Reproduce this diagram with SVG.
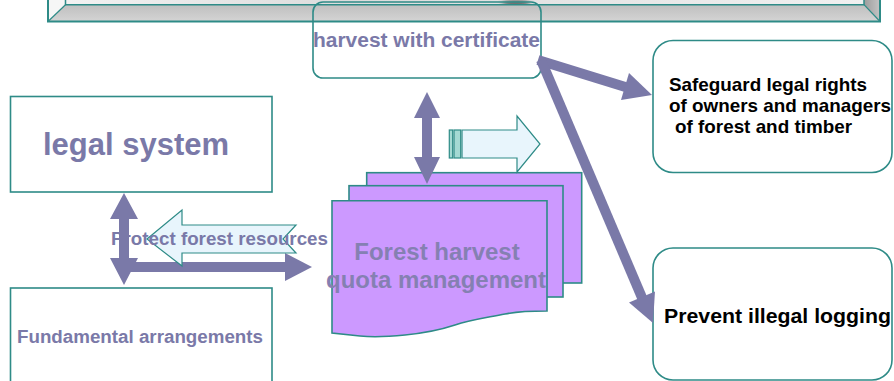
<svg xmlns="http://www.w3.org/2000/svg" width="894" height="381" viewBox="0 0 894 381">
  <style>
    .box { fill: #ffffff; stroke: #2e8b87; stroke-width: 1.6; }
    .open { fill: none; stroke: #2e8b87; stroke-width: 1.6; }
    .lbl { font-family: "Liberation Sans", Arial, sans-serif; font-weight: bold; fill: #7a79a8; }
    .dark { font-family: "Liberation Sans", Arial, sans-serif; font-weight: bold; fill: #000000; }
    .gray { fill: #7a79a8; stroke: none; }
    .pale { fill: #e8f5fc; stroke: #2e8b87; stroke-width: 1.2; }
    .stripe { fill: #a4d9d3; stroke: #2e8b87; stroke-width: 1.2; }
    .sheet { fill: #cc99ff; stroke: #2e8b87; stroke-width: 1.6; }
  </style>
  <defs>
    <linearGradient id="faceFront" x1="0" y1="0" x2="1" y2="0">
      <stop offset="0" stop-color="#f2f2f2"/>
      <stop offset="0.35" stop-color="#dcdcdc"/>
      <stop offset="0.6" stop-color="#e4e4e4"/>
      <stop offset="1" stop-color="#f0f0f0"/>
    </linearGradient>
    <linearGradient id="faceBottom" x1="0" y1="0" x2="0" y2="1">
      <stop offset="0" stop-color="#bfbfbf"/>
      <stop offset="1" stop-color="#d4d4d4"/>
    </linearGradient>
    <linearGradient id="faceRight" x1="0" y1="0" x2="1" y2="0">
      <stop offset="0" stop-color="#9c9c9c"/>
      <stop offset="1" stop-color="#c4c4c4"/>
    </linearGradient>
    <filter id="soft" x="-50%" y="-200%" width="200%" height="500%">
      <feGaussianBlur stdDeviation="2.5"/>
    </filter>
  </defs>

  <!-- bevelled banner across the top -->
  <g id="banner">
    <rect x="65.5" y="-10" width="798.5" height="14.7" fill="url(#faceFront)"/>
    <ellipse cx="516" cy="4" rx="14" ry="4" fill="#4a4a4a" opacity="0.85" filter="url(#soft)"/>
    <polygon points="65.5,4.7 864,4.7 880,21.5 48,21.5" fill="url(#faceBottom)"/>
    <polygon points="48,-10 65.5,-10 65.5,4.7 48,21.5" fill="#f6f6f6"/>
    <polygon points="864,-10 880,-10 880,21.5 864,4.7" fill="url(#faceRight)"/>
    <polyline points="65.5,-10 65.5,4.7 864,4.7 864,-10" fill="none" stroke="#2e8b87" stroke-width="1.5"/>
    <line x1="65.5" y1="4.7" x2="48" y2="21.5" stroke="#2e8b87" stroke-width="1.2"/>
    <line x1="864" y1="4.7" x2="880" y2="21.5" stroke="#2e8b87" stroke-width="1.2"/>
    <polyline points="48,-10 48,21.5 880,21.5 880,-10" fill="none" stroke="#2e8b87" stroke-width="2"/>
  </g>

  <!-- harvest with certificate -->
  <g id="harvest">
    <rect class="open" x="313" y="2" width="228" height="76" rx="10"/>
    <text class="lbl" x="313" y="47" font-size="20" textLength="227" lengthAdjust="spacingAndGlyphs">harvest with certificate</text>
  </g>

  <!-- legal system -->
  <g id="legal">
    <rect class="box" x="10.5" y="96.5" width="261.5" height="95.5"/>
    <text class="lbl" x="136" y="155" font-size="31" text-anchor="middle">legal system</text>
  </g>

  <!-- fundamental arrangements -->
  <g id="fundamental">
    <rect class="box" x="10.5" y="288" width="261.5" height="110"/>
    <text class="lbl" x="17" y="343" font-size="18.8" textLength="246" lengthAdjust="spacingAndGlyphs">Fundamental arrangements</text>
  </g>

  <!-- stacked quota sheets -->
  <g id="quota">
    <rect class="sheet" x="366.7" y="172.7" width="215" height="110.3"/>
    <rect class="sheet" x="349" y="185.7" width="214" height="111.3"/>
    <path class="sheet" d="M332,200.7 H547 V311 C530,311 515,312 505,314 C485,318 470,320 455,325 C440,330 425,333 405,335 C385,337 370,337 360,336 L332,333 Z"/>
    <text class="lbl" x="437" y="260" font-size="24" text-anchor="middle" fill="#8580b2" style="fill:#8580b2">Forest harvest</text>
    <text class="lbl" x="436" y="288" font-size="24" text-anchor="middle" style="fill:#8580b2">quota management</text>
  </g>

  <!-- safeguard legal rights -->
  <g id="safeguard">
    <rect class="box" x="653" y="40.5" width="239" height="132" rx="20"/>
    <text class="dark" x="669" y="91" font-size="18.5" textLength="198" lengthAdjust="spacingAndGlyphs">Safeguard legal rights</text>
    <text class="dark" x="669" y="112" font-size="18.5" textLength="222" lengthAdjust="spacingAndGlyphs">of owners and managers</text>
    <text class="dark" x="675" y="133" font-size="18.5" textLength="177" lengthAdjust="spacingAndGlyphs">of forest and timber</text>
  </g>

  <!-- prevent illegal logging -->
  <g id="prevent">
    <rect class="box" x="653" y="248" width="239" height="132" rx="20"/>
    <text class="dark" x="664" y="323" font-size="21" textLength="227" lengthAdjust="spacingAndGlyphs">Prevent illegal logging</text>
  </g>

  <!-- connectors -->
  <g id="connectors">
    <!-- harvest <-> quota -->
    <polygon class="gray" points="427,92 440,118 432,118 432,157 440,157 427,184 414,157 422,157 422,118 414,118"/>
    <!-- pale block arrow pointing right -->
    <rect class="stripe" x="449.3" y="130" width="3.4" height="28"/>
    <rect class="stripe" x="454" y="130" width="6.7" height="28"/>
    <polygon class="pale" points="462,130 517,130 517,116 540,144 517,172 517,158 462,158"/>
    <!-- harvest to safeguard -->
    <line x1="538" y1="60" x2="627" y2="87.5" stroke="#7a79a8" stroke-width="10"/>
    <polygon class="gray" points="652,95 629,73 621,100"/>
    <!-- harvest to prevent -->
    <line x1="541" y1="60" x2="643" y2="300" stroke="#7a79a8" stroke-width="10"/>
    <polygon class="gray" points="653,323 655,291.5 629,302.5"/>
    <!-- horizontal arrow into quota -->
    <rect class="gray" x="124" y="262" width="162" height="10"/>
    <polygon class="gray" points="285,253 312,267 285,281"/>
    <!-- pale block arrow pointing left -->
    <polygon class="pale" points="147,239 182,210 182,225 296,225 283,239 296,253 182,253 182,266"/>
    <text class="lbl" x="111" y="245" font-size="18.5" textLength="217" lengthAdjust="spacingAndGlyphs">Protect forest resources</text>
    <!-- legal system <-> fundamental arrangements -->
    <polygon class="gray" points="124,193 138,219 129,219 129,258 138,258 124,285 110,258 119,258 119,219 110,219"/>
  </g>
</svg>
